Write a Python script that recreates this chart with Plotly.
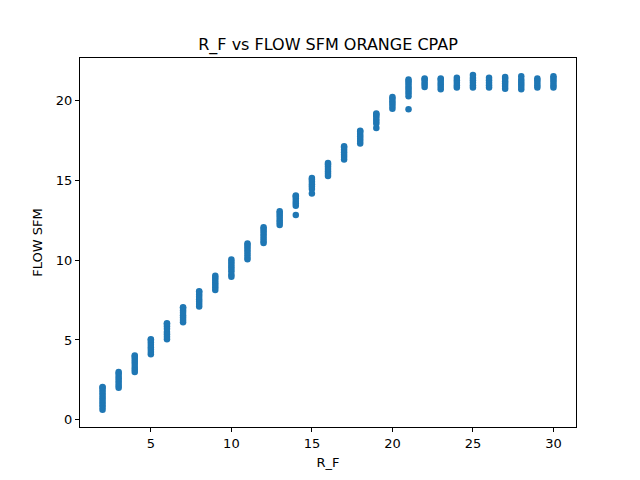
import plotly.graph_objects as go

# R_F setting (x) and the FLOW SFM readings taken at each setting
rf = [2, 3, 4, 5, 6, 7, 8, 9, 10, 11, 12, 13, 14, 15, 16,
      17, 18, 19, 20, 21, 22, 23, 24, 25, 26, 27, 28, 29, 30]

flow = [
    [0.63, 0.8, 0.95, 1.1, 1.25, 1.4, 1.55, 1.7, 1.85, 2.0, 2.05],
    [2.0, 2.15, 2.3, 2.45, 2.6, 2.75, 2.9, 3.0],
    [3.0, 3.15, 3.3, 3.5, 3.65, 3.8, 3.95, 4.03],
    [4.1, 4.25, 4.4, 4.55, 4.7, 4.85, 5.0, 5.05],
    [5.05, 5.2, 5.35, 5.5, 5.7, 5.85, 6.0, 6.05],
    [6.1, 6.25, 6.4, 6.55, 6.7, 6.85, 7.0, 7.05],
    [7.1, 7.25, 7.4, 7.55, 7.7, 7.85, 8.0, 8.05],
    [8.13, 8.3, 8.45, 8.6, 8.75, 8.9, 9.02],
    [8.95, 9.1, 9.3, 9.45, 9.6, 9.75, 9.9, 10.03],
    [10.05, 10.2, 10.35, 10.5, 10.65, 10.8, 10.95, 11.03],
    [11.07, 11.2, 11.35, 11.5, 11.65, 11.8, 11.95, 12.05],
    [12.2, 12.35, 12.5, 12.65, 12.8, 12.95, 13.06],
    [12.82, 13.4, 13.55, 13.7, 13.85, 14.0, 14.05],
    [14.16, 14.45, 14.6, 14.75, 14.9, 15.05, 15.14],
    [15.27, 15.4, 15.55, 15.7, 15.85, 16.0, 16.08],
    [16.29, 16.45, 16.6, 16.75, 16.9, 17.05, 17.13],
    [17.29, 17.45, 17.6, 17.75, 17.9, 18.05, 18.1],
    [18.27, 18.55, 18.7, 18.85, 19.0, 19.12, 19.17],
    [19.48, 19.65, 19.8, 19.95, 20.1, 20.21],
    [19.44, 20.26, 20.45, 20.6, 20.75, 20.9, 21.05, 21.2, 21.3],
    [20.84, 21.0, 21.15, 21.3, 21.36],
    [20.7, 20.85, 21.0, 21.15, 21.3, 21.36],
    [20.8, 20.95, 21.1, 21.25, 21.42],
    [20.8, 20.95, 21.1, 21.25, 21.4, 21.59],
    [20.8, 20.95, 21.1, 21.25, 21.42],
    [20.73, 20.9, 21.05, 21.2, 21.35, 21.46],
    [20.7, 20.85, 21.0, 21.15, 21.3, 21.5],
    [20.8, 20.95, 21.1, 21.25, 21.36],
    [20.8, 20.95, 21.1, 21.25, 21.4, 21.5],
]

x_ticks = [5, 10, 15, 20, 25, 30]
y_ticks = [0, 5, 10, 15, 20]

xs, ys = [], []
for r, readings in zip(rf, flow):
    for v in readings:
        xs.append(r)
        ys.append(v)

BLUE = "#1f77b4"
FONT = "DejaVu Sans"

fig = go.Figure()
fig.add_trace(go.Scatter(x=xs, y=ys, mode="markers",
                         marker=dict(color=BLUE, size=6.5, line=dict(width=0)),
                         showlegend=False))

axis_style = dict(showline=True, linecolor="black", linewidth=1, mirror=True,
                  ticks="outside", ticklen=4, tickcolor="black", showgrid=False,
                  zeroline=False, tickfont=dict(family=FONT, size=13, color="black"))

# page body has an 8px margin, so the figure is 8px smaller and shifted
fig.update_layout(
    width=632, height=472,
    margin=dict(l=72, r=64, t=50, b=53),
    paper_bgcolor="white", plot_bgcolor="white",
    font=dict(family=FONT, color="black"),
    title=dict(text="R_F vs FLOW SFM ORANGE CPAP", x=0.5, xref="paper",
               y=1 - 36 / 472, yref="container", yanchor="middle",
               font=dict(family=FONT, size=16, color="black")),
    xaxis=dict(range=[0.6, 31.4], tickvals=x_ticks,
               title=dict(text="R_F", font=dict(family=FONT, size=13), standoff=8),
               **axis_style),
    yaxis=dict(range=[-0.45, 22.65], tickvals=y_ticks,
               title=dict(text="FLOW SFM", font=dict(family=FONT, size=13), standoff=10),
               **axis_style),
)

fig.write_html("out.html")
